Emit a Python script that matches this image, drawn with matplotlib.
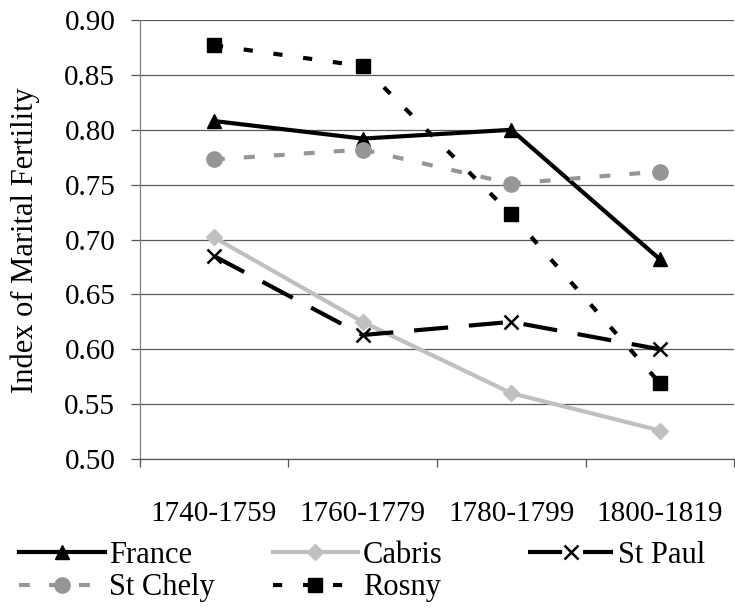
import numpy as np
import matplotlib.pyplot as plt

plt.rcParams['font.family'] = ['Liberation Serif', 'DejaVu Serif']

periods = ['1740-1759', '1760-1779', '1780-1799', '1800-1819']
france = [0.808, 0.792, 0.800, 0.682]
cabris = [0.702, 0.625, 0.560, 0.526]
st_paul = [0.685, 0.613, 0.625, 0.600]
st_chely = [0.773, 0.782, 0.751, 0.762]
rosny = [0.877, 0.858, 0.723, 0.569]

fig = plt.figure(figsize=(7.35, 6.08), dpi=100)
ax = fig.add_axes([0.190, 0.245, 0.809, 0.722])

x = np.arange(len(periods))
lw = 3.0

l_fr, = ax.plot(x, france, color='black', lw=lw, marker='^', ms=10.5,
                label='France', zorder=3)
l_ca, = ax.plot(x, cabris, color='#c0c0c0', lw=lw, marker='D', ms=8,
                label='Cabris', zorder=3)
l_sp, = ax.plot(x, st_paul, color='black', lw=lw, marker='x', ms=10, mew=1.8,
                dashes=(8.2, 5), label='St Paul', zorder=3)
l_sc, = ax.plot(x, st_chely, color='#969696', lw=lw, marker='o', ms=11,
                dashes=(2.6, 4.6), label='St Chely', zorder=3)
l_ro, = ax.plot(x, rosny, color='black', lw=lw, marker='s', ms=10,
                dashes=(2.2, 5), label='Rosny', zorder=3)

ax.set_xlim(-0.5, 3.5)
ax.set_ylim(0.50, 0.90)
yt = np.arange(0.50, 0.901, 0.05)
ax.set_yticks(yt)
ax.set_yticklabels(['%.2f' % v for v in yt])
ax.yaxis.grid(True, color='#5a5a5a', lw=0.9)
ax.set_axisbelow(True)

ax.set_xticks(x)
ax.set_xticklabels(periods)
ax.set_xticks(np.arange(-0.5, 3.6, 1), minor=True)
ax.tick_params(axis='x', which='major', length=0, pad=30, labelsize=21)
ax.tick_params(axis='x', which='minor', length=6, color='#555555', width=0.9)
ax.tick_params(axis='y', length=6.5, color='#555555', width=0.9, labelsize=21, pad=11)

for s in ['top', 'right']:
    ax.spines[s].set_visible(False)
ax.spines['left'].set_color('#808080')
ax.spines['bottom'].set_color('#555555')
ax.spines['left'].set_linewidth(0.9)
ax.spines['bottom'].set_linewidth(0.9)

fig.text(25 / 735, 1 - 240 / 608, 'Index of Marital Fertility', fontsize=22,
         rotation=90, ha='center', va='center')

leg_kw = dict(frameon=False, fontsize=22, handlelength=2.8, handletextpad=0.15,
              labelspacing=0.12, borderpad=0, borderaxespad=0, loc='center left')
columns = [([l_fr, l_sc], 0.0259, 0.060),
           ([l_ca, l_ro], 0.371, 0.060),
           ([l_sp], 0.718, 0.087)]
for hs, lx, ly in columns:
    fig.legend(hs, [h.get_label() for h in hs], bbox_to_anchor=(lx, ly), **leg_kw)

fig.savefig('out.png', dpi=100)
